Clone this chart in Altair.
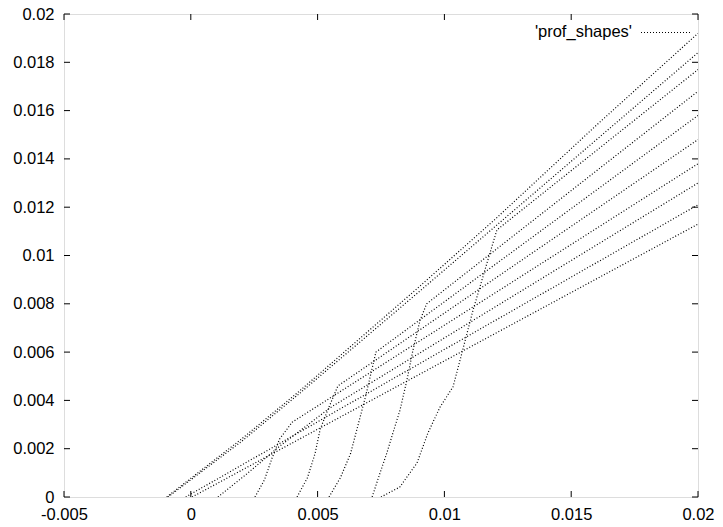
import altair as alt
import pandas as pd

# ---------------- data ----------------
X_TICKS = [-0.005, 0.0, 0.005, 0.01, 0.015, 0.02]
Y_TICKS = [0.0, 0.002, 0.004, 0.006, 0.008, 0.01, 0.012, 0.014, 0.016, 0.018, 0.02]
LEGEND_LABEL = "'prof_shapes'"

p0_x = [0.00005, 0.02]
p0_y = [0.0, 0.0113]
p1_x = [-0.0002, 0.02]
p1_y = [0.0, 0.0121]
p2_x = [0.00107, 0.0022, 0.0035, 0.0055, 0.02]
p2_y = [0.0, 0.00095, 0.0021, 0.0037, 0.0130]
p3_x = [0.00253, 0.0029, 0.0032, 0.0035, 0.0040, 0.02]
p3_y = [0.0, 0.0007, 0.0016, 0.0024, 0.0031, 0.0138]
p4_x = [0.00419, 0.0046, 0.0049, 0.0051, 0.0054, 0.0058, 0.02]
p4_y = [0.0, 0.0008, 0.0018, 0.0028, 0.0036, 0.0046, 0.0148]
p5_x = [0.00545, 0.0059, 0.0063, 0.0066, 0.0069, 0.0073, 0.02]
p5_y = [0.0, 0.0008, 0.0018, 0.0030, 0.0042, 0.0060, 0.0158]
p6_x = [0.00715, 0.00746, 0.00773, 0.00797, 0.00825, 0.00852, 0.00876, 0.00904, 0.0093, 0.02]
p6_y = [0.0, 0.00099, 0.00182, 0.00265, 0.0036, 0.00483, 0.00608, 0.00732, 0.0080, 0.0168]
p7_x = [0.0075, 0.00824, 0.00892, 0.00935, 0.00983, 0.01034, 0.01069, 0.01113, 0.01168, 0.01207, 0.02]
p7_y = [0.0, 0.00041, 0.00141, 0.00265, 0.00373, 0.00456, 0.00596, 0.00774, 0.00969, 0.01106, 0.0177]
p8_x = [-0.0009, 0.002, 0.0043, 0.009, 0.012, 0.02]
p8_y = [0.0, 0.0023, 0.0043, 0.0085, 0.0112, 0.0184]
p9_x = [-0.00095, 0.002, 0.0043, 0.009, 0.012, 0.016, 0.02]
p9_y = [0.0, 0.0024, 0.0044, 0.0087, 0.0115, 0.0154, 0.0192]

profiles = [(p0_x, p0_y), (p1_x, p1_y), (p2_x, p2_y), (p3_x, p3_y), (p4_x, p4_y),
            (p5_x, p5_y), (p6_x, p6_y), (p7_x, p7_y), (p8_x, p8_y), (p9_x, p9_y)]

rows = []
for k, (xs_, ys_) in enumerate(profiles):
    for i, (xv, yv) in enumerate(zip(xs_, ys_)):
        rows.append({"prof": k, "i": i, "x": xv, "y": yv})
df = pd.DataFrame(rows)

# ---------------- layout ----------------
W, H = 634, 483
FONT = "Liberation Sans"
FS = 16.5

xs = alt.Scale(domain=[-0.005, 0.02], nice=False, zero=False)
ys = alt.Scale(domain=[0, 0.02], nice=False, zero=False)

lines = alt.Chart(df).mark_line(
    color="black", strokeWidth=1.2, strokeDash=[1, 2], clip=True
).encode(
    x=alt.X("x:Q", scale=xs, axis=alt.Axis(
        values=X_TICKS, ticks=False, domain=False, grid=False, title=None,
        labelFont=FONT, labelFontSize=FS, labelColor="black", labelPadding=9,
        labelFlush=False,
        labelExpr="datum.value < 0 ? '-' + format(-datum.value, '~g') : format(datum.value, '~g')")),
    y=alt.Y("y:Q", scale=ys, axis=alt.Axis(
        values=Y_TICKS, ticks=False, domain=False, grid=False, title=None,
        labelFont=FONT, labelFontSize=FS, labelColor="black", labelPadding=10,
        labelFlush=False, labelExpr="format(datum.value, '~g')")),
    detail="prof:N",
    order="i:Q",
)

TL = 6
ydf = pd.DataFrame({"v": Y_TICKS})
xdf = pd.DataFrame({"v": X_TICKS})
yt_left = alt.Chart(ydf).mark_rule(color="black", strokeWidth=1).encode(
    y=alt.Y("v:Q", scale=ys), x=alt.value(0), x2=alt.value(TL))
yt_right = alt.Chart(ydf).mark_rule(color="black", strokeWidth=1).encode(
    y=alt.Y("v:Q", scale=ys), x=alt.value(W - TL), x2=alt.value(W))
xt_bot = alt.Chart(xdf).mark_rule(color="black", strokeWidth=1).encode(
    x=alt.X("v:Q", scale=xs), y=alt.value(H - TL), y2=alt.value(H))
xt_top = alt.Chart(xdf).mark_rule(color="black", strokeWidth=1).encode(
    x=alt.X("v:Q", scale=xs), y=alt.value(0), y2=alt.value(TL))

leg_df = pd.DataFrame({"label": [LEGEND_LABEL]})
leg_text = alt.Chart(leg_df).mark_text(
    align="right", baseline="middle", font=FONT, fontSize=FS, color="black"
).encode(text="label:N", x=alt.value(568), y=alt.value(18))
leg_line = alt.Chart(leg_df).mark_rule(color="black", strokeWidth=1.2, strokeDash=[1, 2]).encode(
    x=alt.value(577), x2=alt.value(628), y=alt.value(18.5))

chart = alt.layer(lines, yt_left, yt_right, xt_bot, xt_top, leg_line, leg_text).properties(
    width=W, height=H,
    autosize=alt.AutoSizeParams(type="none"),
    padding={"left": 64, "top": 14, "right": 25, "bottom": 30},
).configure_view(stroke="black", strokeWidth=1.5).configure(background="white")

chart.save("out.html", embed_options={"renderer": "svg", "actions": False})
